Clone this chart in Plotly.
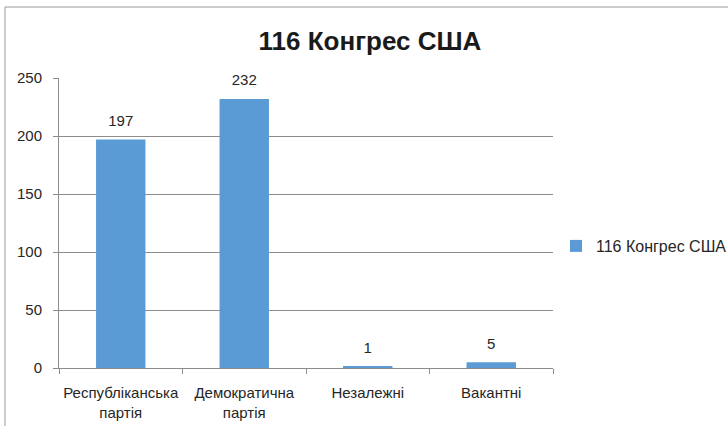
import plotly.graph_objects as go

categories = ["Республіканська<br>партія", "Демократична<br>партія", "Незалежні", "Вакантні"]
values = [197, 232, 1, 5]
series_name = "116 Конгрес США"
title_text = "116 Конгрес США"

L, R, T, B = 59, 175, 78, 58
W, H = 728, 426
pw, ph = W - L - R, H - T - B

def px_x(p):
    return (p - L) / pw

def px_y(p):
    return (H - B - p) / ph

fig = go.Figure()
fig.add_trace(go.Bar(
    x=categories, y=values, name=series_name,
    marker=dict(color="#5b9bd5", line=dict(width=0)),
    showlegend=True, hoverinfo="x+y",
))
fig.add_trace(go.Scatter(
    x=categories, y=values, mode="markers+text",
    text=[str(v) for v in values], textposition="top center",
    textfont=dict(size=15, color="#262626"),
    marker=dict(size=14, opacity=0),
    cliponaxis=False, showlegend=False, hoverinfo="skip",
))

fig.update_layout(
    width=W, height=H,
    margin=dict(l=L, r=R, t=T, b=B, autoexpand=False),
    paper_bgcolor="white", plot_bgcolor="white",
    font=dict(family="Liberation Sans, Arial, sans-serif", size=15, color="#262626"),
    bargap=0.6,
    showlegend=True,
    title=dict(text="<b>" + title_text + "</b>", x=px_x(370), xref="paper", xanchor="center",
               y=1 - 41 / H, yanchor="middle", font=dict(size=26, color="#1a1a1a")),
    legend=dict(x=px_x(556), y=px_y(246), xanchor="left", yanchor="middle",
                itemwidth=30,
                font=dict(size=16, color="#262626"), bgcolor="rgba(0,0,0,0)"),
    xaxis=dict(showline=True, linecolor="#8c8c8c", linewidth=1, ticks="outside",
               tickson="boundaries", ticklen=5, tickcolor="#8c8c8c", showgrid=False,
               automargin=False, tickangle=0, ticklabelstandoff=11),
    yaxis=dict(range=[0, 250], dtick=50, showline=True, linecolor="#8c8c8c", linewidth=1,
               ticks="outside", ticklen=5, tickcolor="#8c8c8c", gridcolor="#8c8c8c",
               gridwidth=1, zeroline=False, ticklabelstandoff=8, automargin=False),
    shapes=[dict(type="rect", xref="paper", yref="paper",
                 x0=px_x(5), x1=px_x(760), y0=px_y(460), y1=px_y(7),
                 line=dict(color="#9a9a9a", width=1), layer="below")],
)

fig.write_html("out.html", config={"displayModeBar": False},
               post_script="document.body.style.margin='0';document.body.style.overflow='hidden';")
